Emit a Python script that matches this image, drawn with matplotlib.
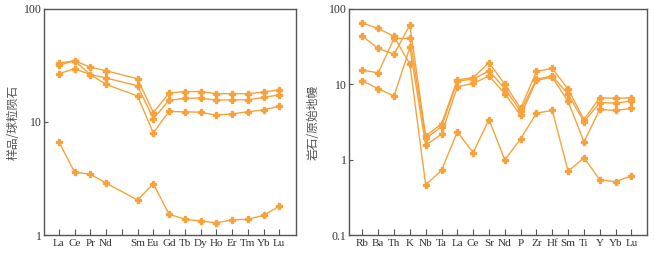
import numpy as np
import matplotlib
matplotlib.use("Agg")
import matplotlib.pyplot as plt
from matplotlib.ticker import NullLocator

plt.rcParams['font.family'] = ['Liberation Serif', 'Noto Sans CJK SC', 'DejaVu Sans']

# --- REE (chondrite normalised) ---
ree_labels = ["La", "Ce", "Pr", "Nd", "", "Sm", "Eu", "Gd", "Tb", "Dy", "Ho", "Er", "Tm", "Yb", "Lu"]
ree_pos = [1, 2, 3, 4, 6, 7, 8, 9, 10, 11, 12, 13, 14, 15]   # Pm left empty
ree_s1 = [33.2, 34.8, 30.6, 28.4, 24.1, 12.1, 18.0, 18.6, 18.6, 17.8, 17.8, 17.8, 18.4, 19.2]
ree_s2 = [31.8, 34.8, 26.3, 21.5, 17.0, 8.0, 12.4, 12.3, 12.2, 11.5, 11.8, 12.3, 12.8, 13.8]
ree_s3 = [26.7, 29.6, 26.3, 24.5, 20.9, 10.7, 15.5, 16.2, 16.3, 15.6, 15.7, 15.7, 16.5, 17.4]
ree_s4 = [6.7, 3.6, 3.45, 2.88, 2.04, 2.84, 1.53, 1.38, 1.33, 1.28, 1.36, 1.38, 1.49, 1.80]

# --- trace elements (primitive mantle normalised) ---
te_labels = ["Rb", "Ba", "Th", "K", "Nb", "Ta", "La", "Ce", "Sr", "Nd", "P",
             "Zr", "Hf", "Sm", "Ti", "Y", "Yb", "Lu"]
te_s1 = [65.0, 55.2, 43.2, 18.5, 0.464, 0.72, 2.34, 1.24, 3.41, 0.99, 1.89,
         4.15, 4.50, 0.70, 1.06, 0.54, 0.51, 0.61]
te_s2 = [43.6, 29.9, 25.1, 61.2, 2.05, 2.99, 11.4, 12.3, 19.4, 10.0, 4.79,
         14.8, 16.3, 8.58, 3.41, 6.64, 6.51, 6.64]
te_s3 = [15.4, 14.2, 40.6, 40.6, 1.92, 2.73, 11.1, 11.7, 15.1, 8.75, 4.41,
         11.7, 12.9, 7.36, 3.18, 5.70, 5.64, 5.99]
te_s4 = [11.1, 8.75, 6.99, 30.8, 1.55, 2.18, 9.3, 10.3, 12.9, 7.51, 3.86,
         11.3, 12.4, 5.93, 1.72, 4.64, 4.50, 4.79]

color = '#F7A23C'
frame = '#555555'
txt = '#333333'

fig = plt.figure(figsize=(6.54, 2.56), dpi=100)
ax1 = fig.add_axes([0.068, 0.082, 0.385, 0.883])
ax2 = fig.add_axes([0.534, 0.082, 0.455, 0.883])

for s in [ree_s1, ree_s2, ree_s3, ree_s4]:
    ax1.plot(ree_pos, s, color=color, lw=1.0, marker='P', ms=5, mec=color, mfc=color)

te_pos = np.arange(1, len(te_labels) + 1)
for s in [te_s1, te_s2, te_s3, te_s4]:
    ax2.plot(te_pos, s, color=color, lw=1.0, marker='P', ms=5, mec=color, mfc=color)

ax1.set_yscale('log')
ax1.set_ylim(1, 100)
ax1.set_xlim(0.09, 16.08)
ax1.set_xticks(np.arange(1, 16))
ax1.set_xticklabels(ree_labels)
ax1.set_yticks([1, 10, 100])
ax1.set_yticklabels(["1", "10", "100"])
ax1.set_ylabel("样品/球粒陨石", fontsize=8.5, color='#555555', family=['Noto Sans CJK SC'])
ax1.yaxis.set_label_coords(-0.097, 0.5)

ax2.set_yscale('log')
ax2.set_ylim(0.1, 100)
ax2.set_xlim(0.17, 18.97)
ax2.set_xticks(te_pos)
ax2.set_xticklabels(te_labels)
ax2.set_yticks([0.1, 1, 10, 100])
ax2.set_yticklabels(["0.1", "1", "10", "100"])
ax2.set_ylabel("岩石/原始地幔", fontsize=8.5, color='#555555', family=['Noto Sans CJK SC'])
ax2.yaxis.set_label_coords(-0.099, 0.5)

for ax in [ax1, ax2]:
    ax.yaxis.set_minor_locator(NullLocator())
    ax.tick_params(axis='x', direction='in', length=4, width=0.8, color=frame,
                   labelsize=8, labelcolor=txt, pad=3)
    ax.tick_params(axis='y', direction='in', length=3, width=0.8, color=frame,
                   labelsize=8.5, labelcolor=txt, pad=2)
    for spine in ax.spines.values():
        spine.set_color(frame)
        spine.set_linewidth(1.0)

fig.savefig("out.png", dpi=100)
